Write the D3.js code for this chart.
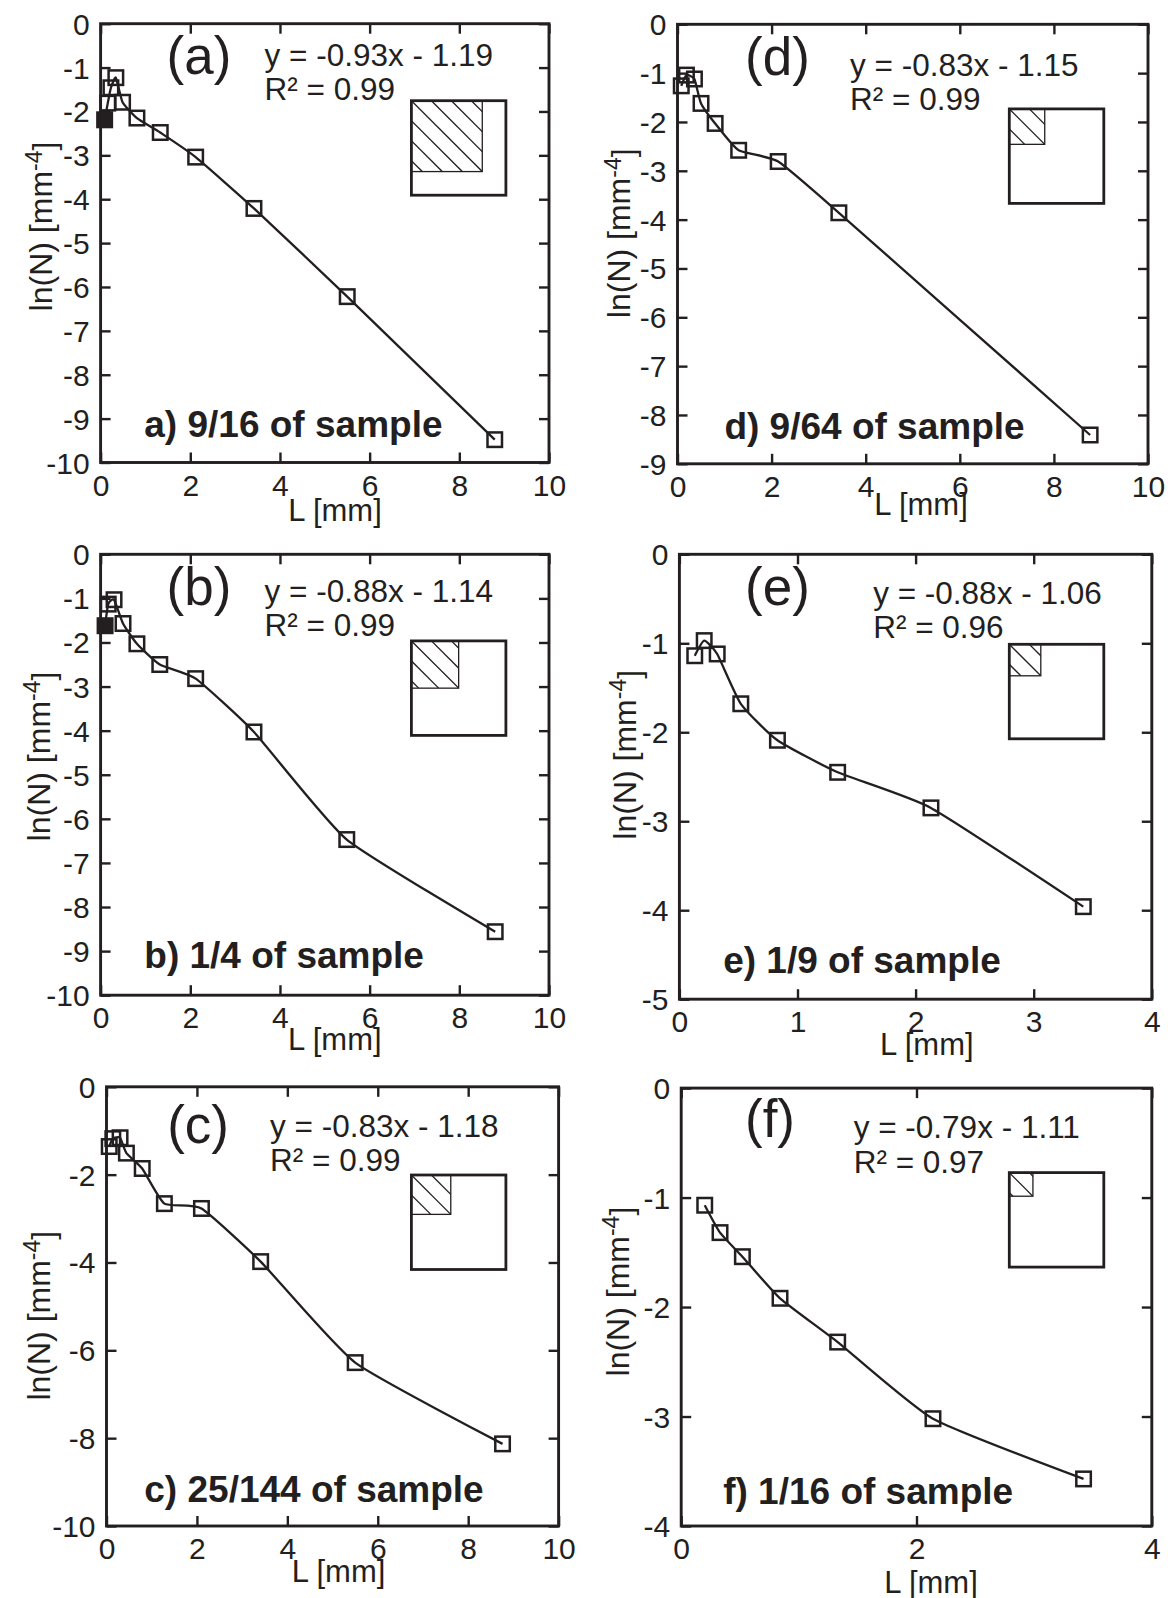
<!DOCTYPE html>
<html><head><meta charset="utf-8">
<script src="https://cdn.jsdelivr.net/npm/d3@7"></script>
<style>
body{margin:0;background:#fff}
svg{display:block}
text{font-family:"Liberation Sans",Arial,Helvetica,sans-serif;fill:#231f20}
</style>
</head><body>
<svg id="chart" width="1168" height="1598"></svg>
<script>
// ---------------- DATA ----------------
// (a) 9/16 of sample
const L_a    = [0.16, 0.23, 0.34, 0.49, 0.81, 1.33, 2.12, 3.42, 5.50, 8.79];
const lnN_a  = [-1.81, -1.46, -1.23, -1.79, -2.15, -2.48, -3.04, -4.21, -6.22, -9.48];
const Lfill_a   = [0.09];
const lnNfill_a = [-2.19];
// (b) 1/4 of sample
const L_b    = [0.17, 0.30, 0.50, 0.81, 1.32, 2.12, 3.42, 5.49, 8.80];
const lnN_b  = [-1.13, -1.03, -1.57, -2.03, -2.50, -2.82, -4.03, -6.47, -8.56];
const Lfill_b   = [0.10];
const lnNfill_b = [-1.62];
// (c) 25/144 of sample
const L_c    = [0.06, 0.14, 0.30, 0.44, 0.79, 1.28, 2.10, 3.41, 5.50, 8.76];
const lnN_c  = [-1.36, -1.18, -1.16, -1.51, -1.86, -2.66, -2.77, -3.98, -6.28, -8.13];
// (d) 9/64 of sample
const L_d    = [0.08, 0.19, 0.36, 0.50, 0.80, 1.30, 2.14, 3.43, 8.77];
const lnN_d  = [-1.26, -1.04, -1.12, -1.62, -2.03, -2.58, -2.81, -3.86, -8.41];
// (e) 1/9 of sample
const L_e    = [0.13, 0.21, 0.32, 0.52, 0.83, 1.34, 2.13, 3.42];
const lnN_e  = [-1.14, -0.97, -1.12, -1.68, -2.09, -2.45, -2.85, -3.96];
// (f) 1/16 of sample
const L_f    = [0.20, 0.33, 0.52, 0.84, 1.33, 2.14, 3.42];
const lnN_f  = [-1.07, -1.32, -1.54, -1.92, -2.32, -3.02, -3.57];

// tick labels
const xTicks_10 = [0, 2, 4, 6, 8, 10];
const xTicks_4a = [0, 1, 2, 3, 4];
const xTicks_4b = [0, 2, 4];
const yTicks_a  = [0, -1, -2, -3, -4, -5, -6, -7, -8, -9, -10];
const yTicks_b  = [0, -1, -2, -3, -4, -5, -6, -7, -8, -9, -10];
const yTicks_c  = [0, -2, -4, -6, -8, -10];
const yTicks_d  = [0, -1, -2, -3, -4, -5, -6, -7, -8, -9];
const yTicks_e  = [0, -1, -2, -3, -4, -5];
const yTicks_f  = [0, -1, -2, -3, -4];

// panel texts
const panelTags   = ["(a)", "(b)", "(c)", "(d)", "(e)", "(f)"];
const equations   = ["y = -0.93x - 1.19", "y = -0.88x - 1.14", "y = -0.83x - 1.18",
                     "y = -0.83x - 1.15", "y = -0.88x - 1.06", "y = -0.79x - 1.11"];
const rSquared    = ["R\u00B2 = 0.99", "R\u00B2 = 0.99", "R\u00B2 = 0.99",
                     "R\u00B2 = 0.99", "R\u00B2 = 0.96", "R\u00B2 = 0.97"];
const captions    = ["a) 9/16 of sample", "b) 1/4 of sample", "c) 25/144 of sample",
                     "d) 9/64 of sample", "e) 1/9 of sample", "f) 1/16 of sample"];
const fracNum     = [9, 1, 25, 9, 1, 1];
const fracDen     = [16, 4, 144, 64, 9, 16];
const xTitle = "L [mm]";

// ---------------- LAYOUT ----------------
const layout = [
  {id:"a", L:L_a, N:lnN_a, fL:Lfill_a, fN:lnNfill_a, xMax:10, yMin:-10, xt:xTicks_10, yt:yTicks_a,
   fr:[100.6,549,23.7,462.5], tag:[166.5,74], eq:[264.5,65.5,100], cap:[144.3,437], ins:[411.4,100.7], yl:[40.7,226.5], xl:[335,521]},
  {id:"b", L:L_b, N:lnN_b, fL:Lfill_b, fN:lnNfill_b, xMax:10, yMin:-10, xt:xTicks_10, yt:yTicks_b,
   fr:[100.6,549,554.3,995.2], tag:[166.5,605], eq:[264.5,602.4,636], cap:[144.3,967.5], ins:[411.4,640.9], yl:[38.8,756.5], xl:[334.8,1050]},
  {id:"c", L:L_c, N:lnN_c, fL:[], fN:[], xMax:10, yMin:-10, xt:xTicks_10, yt:yTicks_c,
   fr:[106.5,558.6,1086.8,1526], tag:[167.2,1143.4], eq:[270,1136.7,1171], cap:[144.3,1502], ins:[411.4,1175], yl:[38.8,1315.7], xl:[338.6,1582]},
  {id:"d", L:L_d, N:lnN_d, fL:[], fN:[], xMax:10, yMin:-9, xt:xTicks_10, yt:yTicks_d,
   fr:[677.5,1148,24.3,463.8], tag:[745,75], eq:[850,75.7,109.5], cap:[724.4,439], ins:[1009.3,108.9], yl:[619.4,233.3], xl:[921,515]},
  {id:"e", L:L_e, N:lnN_e, fL:[], fN:[], xMax:4, yMin:-5, xt:xTicks_4a, yt:yTicks_e,
   fr:[679.4,1151.8,554.3,999.2], tag:[745,605], eq:[873.2,604,638], cap:[723.2,972.5], ins:[1009.3,644.3], yl:[625,754.8], xl:[926.8,1055]},
  {id:"f", L:L_f, N:lnN_f, fL:[], fN:[], xMax:4, yMin:-4, xt:xTicks_4b, yt:yTicks_f,
   fr:[681.2,1151.8,1088.1,1526], tag:[745,1136.5], eq:[853.7,1138.4,1172.7], cap:[723.2,1504], ins:[1009.3,1172.6], yl:[617.5,1291.6], xl:[931,1593]}
];

const INK = "#231f20";
const svg = d3.select("#chart");
const defs = svg.append("defs");
const tickLen = 10, insetSize = 94.5, hatchStep = 20, markSide = 14.5;

layout.forEach((p, i) => {
  const [l, r, t, b] = p.fr;
  const x = d3.scaleLinear().domain([0, p.xMax]).range([l, r]);
  const y = d3.scaleLinear().domain([p.yMin, 0]).range([b, t]);
  const g = svg.append("g");

  // frame
  g.append("rect").attr("x", l).attr("y", t).attr("width", r - l).attr("height", b - t)
    .attr("fill", "none").attr("stroke", INK).attr("stroke-width", 2.9);

  // axes (bottom/left with labels), mirrored inward ticks on all sides
  const fmt = d => String(d);
  const ax = g.append("g").attr("transform", `translate(0,${b})`)
    .call(d3.axisBottom(x).tickValues(p.xt).tickSize(-tickLen).tickPadding(12).tickFormat(fmt));
  const ay = g.append("g").attr("transform", `translate(${l},0)`)
    .call(d3.axisLeft(y).tickValues(p.yt).tickSize(-tickLen).tickPadding(11).tickFormat(fmt));
  const axT = g.append("g").attr("transform", `translate(0,${t})`)
    .call(d3.axisTop(x).tickValues(p.xt).tickSize(-tickLen).tickFormat(""));
  const ayR = g.append("g").attr("transform", `translate(${r},0)`)
    .call(d3.axisRight(y).tickValues(p.yt).tickSize(-tickLen).tickFormat(""));
  [ax, ay, axT, ayR].forEach(a => {
    a.select(".domain").remove();
    a.selectAll(".tick line").attr("stroke", INK).attr("stroke-width", 2.4);
    a.selectAll(".tick text").attr("fill", INK).style("font-size", "30px")
      .style("font-family", '"Liberation Sans", Arial, sans-serif');
  });
  ax.selectAll(".tick text").attr("dy", "0.71em");
  ay.selectAll(".tick text").attr("dy", "0.35em");

  // data line (lightly smoothed) through all points ordered by L
  const pts = p.fL.map((v, k) => [v, p.fN[k]]).concat(p.L.map((v, k) => [v, p.N[k]]))
    .sort((m, n) => m[0] - n[0]);
  const line = d3.line().x(d => x(d[0])).y(d => y(d[1])).curve(d3.curveCardinal.tension(0.5));
  g.append("path").attr("d", line(pts)).attr("fill", "none")
    .attr("stroke", INK).attr("stroke-width", 2.3);

  // open squares
  g.selectAll(".open").data(p.L.map((v, k) => [v, p.N[k]])).join("rect")
    .attr("x", d => x(d[0]) - markSide / 2).attr("y", d => y(d[1]) - markSide / 2)
    .attr("width", markSide).attr("height", markSide)
    .attr("fill", "none").attr("stroke", INK).attr("stroke-width", 2.5);
  // filled squares
  g.selectAll(".filled").data(p.fL.map((v, k) => [v, p.fN[k]])).join("rect")
    .attr("x", d => x(d[0]) - markSide / 2).attr("y", d => y(d[1]) - markSide / 2)
    .attr("width", markSide).attr("height", markSide)
    .attr("fill", INK).attr("stroke", INK).attr("stroke-width", 2.5);

  // panel tag
  g.append("text").attr("x", p.tag[0]).attr("y", p.tag[1]).style("font-size", "53px")
    .text(panelTags[i]);
  // equation
  g.append("text").attr("x", p.eq[0]).attr("y", p.eq[1]).style("font-size", "31.5px").text(equations[i]);
  g.append("text").attr("x", p.eq[0]).attr("y", p.eq[2]).style("font-size", "31.5px").text(rSquared[i]);
  // caption
  g.append("text").attr("x", p.cap[0]).attr("y", p.cap[1]).style("font-size", "37px")
    .style("font-weight", "bold").text(captions[i]);

  // inset: sample with hatched sub-square
  const side = insetSize * Math.sqrt(fracNum[i] / fracDen[i]);
  const [ix, iy] = p.ins;
  const cid = "clip" + p.id;
  defs.append("clipPath").attr("id", cid).append("rect")
    .attr("x", ix).attr("y", iy).attr("width", side).attr("height", side);
  const hg = g.append("g").attr("clip-path", `url(#${cid})`);
  const n = Math.ceil(side / hatchStep) + 1;
  d3.range(-n, n + 1).forEach(k => {
    hg.append("line").attr("x1", ix + k * hatchStep).attr("y1", iy)
      .attr("x2", ix + k * hatchStep + side).attr("y2", iy + side)
      .attr("stroke", INK).attr("stroke-width", 1.3);
  });
  g.append("rect").attr("x", ix).attr("y", iy).attr("width", side).attr("height", side)
    .attr("fill", "none").attr("stroke", INK).attr("stroke-width", 1.3);
  g.append("rect").attr("x", ix).attr("y", iy).attr("width", insetSize).attr("height", insetSize)
    .attr("fill", "none").attr("stroke", INK).attr("stroke-width", 2.8);

  // axis titles
  g.append("text").attr("x", p.xl[0]).attr("y", p.xl[1]).attr("text-anchor", "middle")
    .style("font-size", "31px").text(xTitle);
  const yl = g.append("text").attr("text-anchor", "middle").style("font-size", "32px")
    .attr("transform", `translate(${p.yl[0] + 11},${p.yl[1]}) rotate(-90)`);
  yl.append("tspan").text("ln(N) [mm");
  yl.append("tspan").attr("dy", "-0.42em").style("font-size", "23px").text("-4");
  yl.append("tspan").attr("dy", "0.42em").text("]");
});
</script>
</body></html>
